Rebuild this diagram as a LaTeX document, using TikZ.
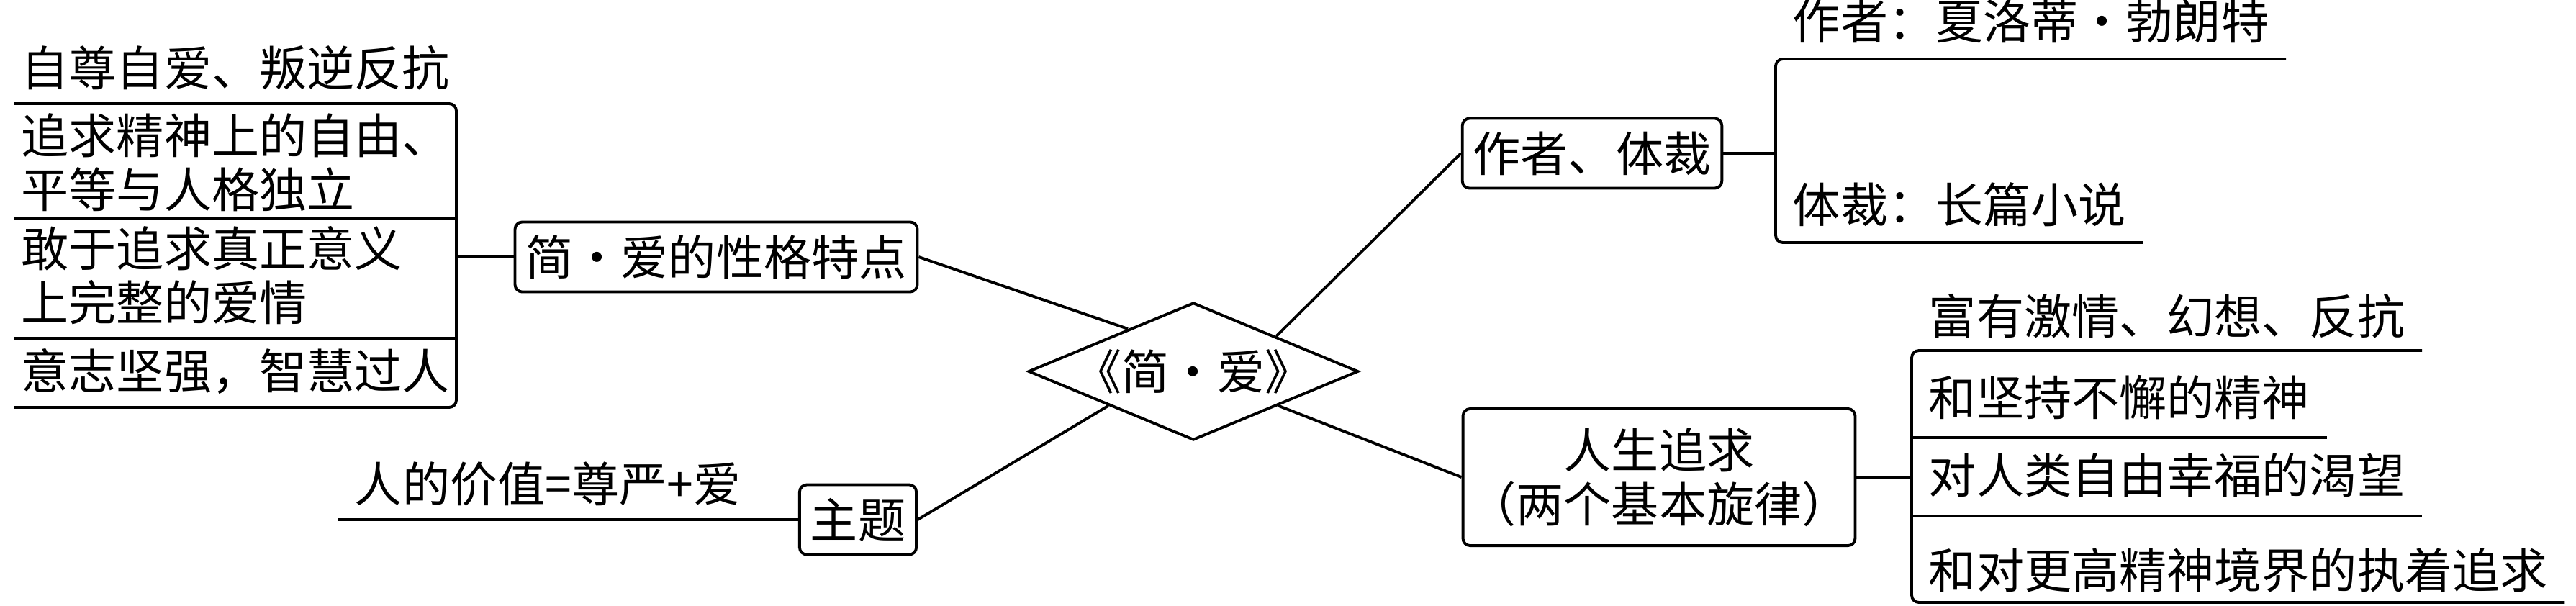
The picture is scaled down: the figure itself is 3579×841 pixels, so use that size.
\documentclass[tikz,border=0pt]{standalone}
\usepackage{fontspec}
\setmainfont{Noto Sans CJK SC}
\usetikzlibrary{shapes.geometric}

\begin{document}
\begin{tikzpicture}[x=0.01cm, y=-0.01cm, line width=1.1pt,
	every node/.style={font=\fontsize{18.8}{21.4}\selectfont},
	topic/.style={draw, rounded corners=0.1cm, inner xsep=0.15cm, inner ysep=0.15cm, minimum height=0.97cm, align=center},
	itemR/.style={anchor=south west, inner xsep=0.22cm, inner ysep=0.17cm},
	itemL/.style={anchor=south east, inner xsep=0.08cm, inner ysep=0.17cm, text width=5.94cm, align=left,
		execute at begin node={\setlength{\baselineskip}{21.4pt}}},
	fork/.style={rounded corners=0.1cm}]

	% page size of the reference
	\useasboundingbox (0,0) rectangle (3579,841);

	% the centre diamond
	\node[diamond, draw, aspect=2.4, inner xsep=-0.1cm, inner ysep=0pt] (jane) at (1658,516) {《简·爱》};

	% main topics
	\node[topic] (trait) at (995,357) {简·爱的性格特点};
	\node[topic] (author) at (2212,213) {作者、体裁};
	\node[topic] (theme) at (1192,722) {主题};
	\node[topic, inner xsep=0.08cm, minimum height=1.9cm] (pursuit) at (2305,663) {人生追求\\（两个基本旋律）};

	\draw (trait.east) -- (jane.147);
	\draw (author.west) -- (jane.23);
	\draw (pursuit.west) -- (jane.-22);
	\draw (theme.east) -- (jane.-158);

	% character traits, on the left
	\coordinate (traitFork) at (634,357);
	\node[itemL] (a1) at (634,144) {自尊自爱、叛逆反抗};
	\node[itemL, inner ysep=0.07cm] (a2) at (634,303) {追求精神上的自由、\\平等与人格独立};
	\node[itemL] (a3) at (634,470) {敢于追求真正意义\\上完整的爱情};
	\node[itemL] (a4) at (634,566) {意志坚强，智慧过人};
	\draw (trait) -- (traitFork);
	\draw[fork] (a1.south west) -- (a1.south east) -- (a4.south east) -- (a4.south west);
	\draw (a2.south west) -- (a2.south east);
	\draw (a3.south west) -- (a3.south east);

	% theme
	\node[itemR] (value) at (469,722) {人的价值=尊严+爱};
	\draw (theme) -- (value.south west);

	% author and genre
	\coordinate (authorFork) at (2467,213);
	\node[itemR, inner ysep=0.2cm] (b1) at (2467,82) {作者：夏洛蒂·勃朗特};
	\node[itemR, inner ysep=0.2cm] (b2) at (2467,337) {体裁：长篇小说};
	\draw (author) -- (authorFork);
	\draw[fork] (b1.south east) -- (b1.south west) -- (b2.south west) -- (b2.south east);

	% life pursuit
	\coordinate (pursuitFork) at (2656,663);
	\node[itemR, inner ysep=0.15cm] (c1) at (2656,487) {富有激情、幻想、反抗};
	\node[itemR, inner ysep=0.23cm] (c2) at (2656,608) {和坚持不懈的精神};
	\node[itemR, inner ysep=0.24cm] (c3) at (2656,717) {对人类自由幸福的渴望};
	\node[itemR, inner ysep=0.12cm] (c4) at (2656,837) {和对更高精神境界的执着追求};
	\draw (pursuit) -- (pursuitFork);
	\draw[fork] (c1.south east) -- (c1.south west) -- (c4.south west) -- (c4.south east);
	\draw (c2.south west) -- (c2.south east);
	\draw (c3.south west) -- (c3.south east);

\end{tikzpicture}
\end{document}
